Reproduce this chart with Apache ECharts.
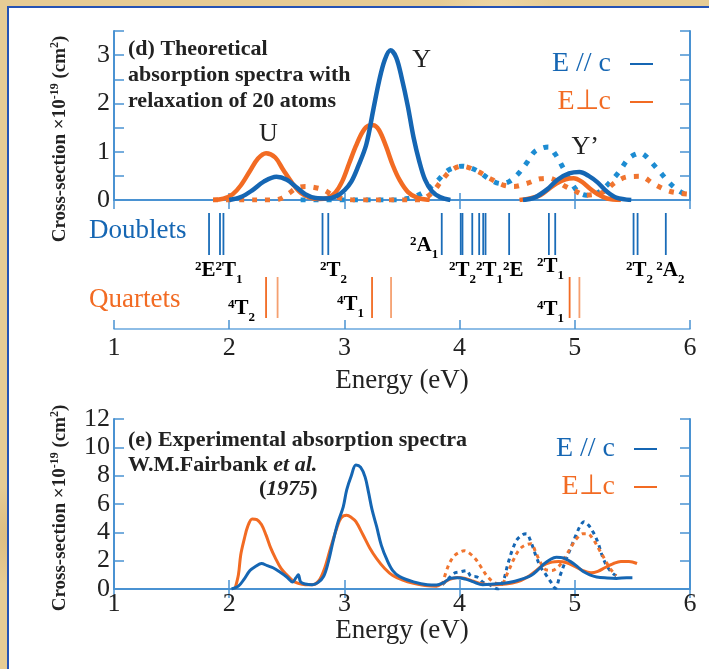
<!DOCTYPE html>
<html>
<head>
<meta charset="utf-8">
<title>Absorption spectra</title>
<script src="https://cdn.jsdelivr.net/npm/echarts@6/dist/echarts.min.js"></script>
<style>
html,body{margin:0;padding:0;}
body{width:709px;height:669px;overflow:hidden;position:relative;
  background-color:#e6cc95;
  background-image:
    radial-gradient(circle at 20% 30%, rgba(200,160,90,.35) 0, rgba(200,160,90,0) 40px),
    radial-gradient(circle at 70% 3%, rgba(245,225,180,.6) 0, rgba(245,225,180,0) 60px),
    radial-gradient(circle at 2% 80%, rgba(205,165,95,.4) 0, rgba(205,165,95,0) 50px);}
#panel{position:absolute;left:7px;top:6px;width:720px;height:680px;background:#fff;
  border-left:2px solid #2553b5;border-top:2px solid #2553b5;}
#chart{position:absolute;left:0;top:0;width:709px;height:669px;}
</style>
</head>
<body>
<div id="panel"></div>
<div id="chart"></div>
<script>
var FONT='"Liberation Serif","Times New Roman",serif';
var BLUE='#1566b3', ORANGE='#f26b23', CYAN='#1d8cd2', ORANGE_DOT='#f07530', AXIS='#4a92d2';

// (d) theory, E // c (solid), split in two pieces
var theoParaA=[[2.0,0],[2.1,0.06],[2.2,0.2],[2.3,0.38],[2.41,0.48],[2.5,0.42],[2.58,0.27],[2.66,0.12],[2.75,0.04],[2.85,0.03],[2.93,0.08],[3.0,0.2],[3.06,0.38],[3.12,0.7],[3.19,1.15],[3.25,1.86],[3.3,2.45],[3.35,2.9],[3.4,3.1],[3.45,2.95],[3.5,2.5],[3.55,1.95],[3.6,1.3],[3.65,0.8],[3.7,0.42],[3.76,0.18],[3.83,0.06],[3.92,0]];
var theoParaB=[[4.55,0],[4.65,0.05],[4.76,0.22],[4.85,0.42],[4.95,0.55],[5.04,0.58],[5.12,0.5],[5.2,0.36],[5.28,0.17],[5.36,0.05],[5.49,0]];
// (d) theory, E perp c (solid)
var theoPerpA=[[1.86,0],[1.95,0.03],[2.03,0.12],[2.1,0.3],[2.18,0.6],[2.25,0.86],[2.32,0.97],[2.4,0.88],[2.47,0.62],[2.55,0.34],[2.62,0.15],[2.7,0.05],[2.78,0.02],[2.85,0.04],[2.92,0.15],[2.98,0.38],[3.04,0.75],[3.1,1.12],[3.16,1.42],[3.21,1.54],[3.25,1.55],[3.3,1.45],[3.36,1.12],[3.42,0.72],[3.48,0.41],[3.55,0.17],[3.63,0.05],[3.74,0]];
var theoPerpB=[[4.52,0],[4.62,0.04],[4.7,0.1],[4.77,0.22],[4.84,0.34],[4.92,0.43],[4.99,0.45],[5.06,0.38],[5.13,0.24],[5.2,0.12],[5.28,0.03],[5.4,0]];
// (d) theory, dotted
var theoParaDot=[[2.62,0],[3.0,0],[3.45,0],[3.55,0.03],[3.62,0.08],[3.7,0.18],[3.8,0.38],[3.88,0.58],[3.95,0.67],[4.02,0.7],[4.1,0.66],[4.17,0.58],[4.26,0.43],[4.36,0.34],[4.43,0.38],[4.5,0.52],[4.58,0.76],[4.65,1.0],[4.72,1.08],[4.77,1.1],[4.83,0.95],[4.9,0.66],[4.96,0.4],[5.03,0.17],[5.1,0.1],[5.19,0.14],[5.25,0.24],[5.31,0.38],[5.39,0.6],[5.46,0.84],[5.52,0.94],[5.57,0.97],[5.62,0.9],[5.67,0.77],[5.74,0.58],[5.8,0.41],[5.87,0.25],[5.94,0.14],[6.0,0.1]];
var theoPerpDot=[[1.86,0],[2.1,0],[2.38,0],[2.45,0.03],[2.52,0.14],[2.58,0.24],[2.66,0.28],[2.74,0.26],[2.82,0.21],[2.9,0.1],[3.0,0.02],[3.12,0],[3.4,0],[3.66,0],[3.72,0.07],[3.78,0.2],[3.85,0.42],[3.93,0.62],[4.02,0.7],[4.15,0.6],[4.26,0.45],[4.38,0.31],[4.47,0.28],[4.58,0.34],[4.7,0.44],[4.78,0.45],[4.85,0.38],[4.92,0.28],[4.99,0.2],[5.1,0.1],[5.18,0.12],[5.25,0.17],[5.36,0.38],[5.46,0.48],[5.57,0.49],[5.68,0.34],[5.8,0.2],[5.91,0.14],[6.0,0.12]];

// transition energies (eV)
var doubletE=[1.825,1.92,1.95,2.81,2.86,3.845,4.01,4.025,4.11,4.17,4.205,4.225,4.43,4.775,4.83,5.51,5.545,5.79];
var quartetE=[2.32,2.42,3.24,3.405,4.955,5.04];

// (e) experiment
var expPara=[[2.02,0],[2.08,0.2],[2.13,0.7],[2.18,1.3],[2.23,1.6],[2.28,1.8],[2.33,1.65],[2.38,1.5],[2.44,1.2],[2.5,0.85],[2.55,0.5],[2.58,0.8],[2.6,1.0],[2.62,0.5],[2.66,0.35],[2.72,0.3],[2.77,0.45],[2.82,0.9],[2.86,1.9],[2.9,3.3],[2.94,4.6],[2.99,5.8],[3.02,7.0],[3.06,8.0],[3.1,8.75],[3.14,8.6],[3.18,7.9],[3.21,6.8],[3.24,5.6],[3.28,4.4],[3.32,3.1],[3.37,2.05],[3.42,1.3],[3.48,0.87],[3.6,0.5],[3.72,0.3],[3.8,0.28],[3.86,0.45],[3.92,0.75],[3.98,0.8],[4.05,0.7],[4.12,0.5],[4.2,0.3],[4.3,0.35],[4.4,0.42],[4.48,0.55],[4.56,0.75],[4.62,0.95],[4.68,1.35],[4.73,1.75],[4.78,2.05],[4.84,2.25],[4.9,2.2],[4.96,1.95],[5.02,1.6],[5.07,1.25],[5.13,1.0],[5.19,0.85],[5.28,0.78],[5.36,0.75],[5.45,0.8],[5.5,0.8]];
var expPerp=[[2.05,0],[2.08,1.0],[2.1,2.4],[2.13,3.5],[2.16,4.4],[2.2,4.95],[2.24,4.9],[2.28,4.55],[2.32,3.8],[2.36,2.9],[2.4,2.2],[2.45,1.45],[2.5,1.0],[2.55,0.6],[2.6,0.4],[2.66,0.3],[2.72,0.3],[2.78,0.6],[2.83,1.5],[2.88,2.9],[2.93,4.2],[2.97,5.0],[3.02,5.2],[3.06,5.05],[3.1,4.75],[3.16,3.85],[3.22,2.9],[3.28,2.15],[3.35,1.45],[3.42,0.95],[3.5,0.65],[3.6,0.4],[3.7,0.25],[3.8,0.2],[3.86,0.45],[3.92,0.7],[3.98,0.82],[4.05,0.75],[4.12,0.55],[4.2,0.35],[4.3,0.3],[4.4,0.35],[4.5,0.5],[4.58,0.8],[4.65,1.2],[4.72,1.65],[4.8,1.9],[4.86,1.95],[4.93,1.85],[5.0,1.6],[5.07,1.3],[5.14,1.15],[5.2,1.25],[5.26,1.5],[5.33,1.78],[5.4,1.95],[5.47,1.95],[5.54,1.8]];
var expParaDot=[[3.85,0.3],[3.9,0.7],[3.95,1.1],[4.0,1.2],[4.06,1.3],[4.1,0.9],[4.15,0.85],[4.2,0.5],[4.26,0.3],[4.33,0],[4.38,0.6],[4.42,1.8],[4.46,2.8],[4.5,3.5],[4.55,3.85],[4.58,3.9],[4.62,3.3],[4.66,2.4],[4.7,1.6],[4.75,1.0],[4.8,0.4],[4.83,0.05],[4.87,0.9],[4.92,2.0],[4.97,3.0],[5.01,3.8],[5.05,4.5],[5.08,4.75],[5.12,4.5],[5.16,4.0],[5.2,3.3],[5.24,2.3],[5.28,1.6],[5.33,1.1],[5.38,0.85]];
var expPerpDot=[[3.85,0.3],[3.9,1.6],[3.95,2.3],[4.0,2.6],[4.04,2.7],[4.09,2.5],[4.14,2.1],[4.19,1.5],[4.24,0.9],[4.3,0.45],[4.36,0.35],[4.42,1.2],[4.47,2.1],[4.52,2.8],[4.57,3.1],[4.62,3.2],[4.66,2.6],[4.7,1.9],[4.74,1.4],[4.8,1.3],[4.86,1.6],[4.92,2.3],[4.97,3.0],[5.02,3.6],[5.07,3.9],[5.11,3.9],[5.16,3.5],[5.21,2.8],[5.26,2.1],[5.31,1.4],[5.36,0.95]];

var myChart=echarts.init(document.getElementById('chart'));

function curve(name,data,color,width,dash,grid){
    return {
        type:'line', name:name, data:data, smooth:0.35, showSymbol:false, silent:true,
        xAxisIndex:grid==0?0:3, yAxisIndex:grid==0?0:3,
        itemStyle:{color:color},
        lineStyle:{color:color,width:width,type:dash||'solid',cap:'butt'}
    };
}
function peakLabel(name,x,y){
    return {name:name,coord:[x,y]};
}
var peakMark={
    symbol:'circle', symbolSize:1, itemStyle:{color:'rgba(0,0,0,0)'},
    label:{show:true,position:'inside',formatter:'{b}',color:'#222',fontFamily:FONT,fontSize:26}
};

var frameLine={show:true,lineStyle:{color:AXIS,width:2}};
var baseLine={show:true,lineStyle:{color:'#6aa8de',width:1.5}};
function ticks(len){return {show:true,inside:true,length:len,lineStyle:{color:AXIS,width:1.5}};}
var tickFont={fontFamily:FONT,fontSize:26,color:'#222'};

// sub/superscript styles for the term labels
var termRich={
    m:{fontFamily:FONT,fontWeight:'bold',fontSize:21,lineHeight:30,color:'#222'},
    p:{fontFamily:FONT,fontWeight:'bold',fontSize:13,lineHeight:13,verticalAlign:'top',padding:[4,0,0,0],color:'#222'},
    b:{fontFamily:FONT,fontWeight:'bold',fontSize:13,lineHeight:13,verticalAlign:'bottom',color:'#222'}
};
function term(x,y,text){
    return {type:'text',x:x,y:y,style:{text:text,rich:termRich,verticalAlign:'middle'}};
}
function plain(x,y,text,size,color,weight){
    return {type:'text',x:x,y:y,style:{text:text,fontFamily:FONT,fontSize:size,fill:color,fontWeight:weight||'normal',verticalAlign:'middle'}};
}
function yTitle(x,y){
    return {type:'text',x:x,y:y,rotation:Math.PI/2,style:{
        text:'Cross-section ×10{s|-19} (cm{s|2})',
        fontFamily:FONT,fontWeight:'bold',fontSize:19,lineHeight:22,fill:'#222',
        align:'center',verticalAlign:'middle',
        rich:{s:{fontFamily:FONT,fontWeight:'bold',fontSize:12,lineHeight:12,verticalAlign:'top',fill:'#222'}}
    }};
}

var sA=curve('E // c',theoParaA,BLUE,4.5,null,0);
sA.markPoint=echarts.util.merge({data:[peakLabel('U',2.34,1.37),peakLabel('Y',3.67,2.9)]},peakMark);
var sB=curve('E // c',theoParaB,BLUE,4.5,null,0);
sB.markPoint=echarts.util.merge({data:[peakLabel('Y\u2019',5.09,1.1)]},peakMark);

var option={
    animation:false,
    grid:[
        {left:114,top:31,width:576,height:169},
        {left:114,top:200,width:576,height:129},
        {left:114,top:419,width:576,height:170}
    ],
    xAxis:[
        {gridIndex:0,type:'value',min:1,max:6,interval:1,position:'bottom',axisLine:baseLine,axisTick:ticks(7),axisLabel:{show:false},splitLine:{show:false}},
        {gridIndex:0,type:'value',min:1,max:6,interval:1,position:'top',axisLine:frameLine,axisTick:ticks(9),axisLabel:{show:false},splitLine:{show:false}},
        {gridIndex:1,type:'value',min:1,max:6,interval:1,position:'bottom',axisLine:baseLine,axisTick:ticks(9),
            axisLabel:echarts.util.merge({margin:6},tickFont),splitLine:{show:false},
            name:'Energy (eV)',nameLocation:'middle',nameGap:38,nameTextStyle:{fontFamily:FONT,fontSize:27,color:'#222'}},
        {gridIndex:2,type:'value',min:1,max:6,interval:1,position:'bottom',axisLine:baseLine,axisTick:ticks(9),
            axisLabel:echarts.util.merge({margin:2},tickFont),splitLine:{show:false},
            name:'Energy (eV)',nameLocation:'middle',nameGap:28,nameTextStyle:{fontFamily:FONT,fontSize:27,color:'#222'}},
        {gridIndex:2,type:'value',min:1,max:6,interval:1,position:'top',axisLine:frameLine,axisTick:ticks(9),axisLabel:{show:false},splitLine:{show:false}}
    ],
    yAxis:[
        {gridIndex:0,type:'value',min:0,max:3.5,interval:0.5,position:'left',axisLine:frameLine,axisTick:ticks(10),splitLine:{show:false},
            axisLabel:echarts.util.merge({margin:4,formatter:function(v){return v%1===0?v:'';}},tickFont)},
        {gridIndex:0,type:'value',min:0,max:3.5,interval:0.5,position:'right',axisLine:frameLine,axisTick:ticks(10),axisLabel:{show:false},splitLine:{show:false}},
        {gridIndex:1,type:'value',min:0,max:129,show:false},
        {gridIndex:2,type:'value',min:0,max:12,interval:2,position:'left',axisLine:frameLine,axisTick:ticks(10),splitLine:{show:false},
            axisLabel:echarts.util.merge({margin:4},tickFont)},
        {gridIndex:2,type:'value',min:0,max:12,interval:2,position:'right',axisLine:frameLine,axisTick:ticks(10),axisLabel:{show:false},splitLine:{show:false}}
    ],
    legend:[
        {data:[{name:'E // c',textStyle:{color:BLUE}},{name:'E\u22a5c',textStyle:{color:ORANGE}}],
         orient:'vertical',right:51,top:45,align:'right',icon:'rect',itemWidth:23,itemHeight:2,itemGap:10,selectedMode:false,
         formatter:function(n){return n+'  ';},textStyle:{fontFamily:FONT,fontSize:28,lineHeight:28}},
        {data:[{name:'E // c',textStyle:{color:BLUE}},{name:'E\u22a5c',textStyle:{color:ORANGE}}],
         orient:'vertical',right:47,top:430,align:'right',icon:'rect',itemWidth:23,itemHeight:2,itemGap:10,selectedMode:false,
         formatter:function(n){return n+'  ';},textStyle:{fontFamily:FONT,fontSize:28,lineHeight:28}}
    ],
    graphic:[
        {type:'text',x:128,y:36,style:{text:'(d) Theoretical\nabsorption spectra with\nrelaxation of 20 atoms',
            fontFamily:FONT,fontWeight:'bold',fontSize:22,lineHeight:26,fill:'#222'}},
        plain(128,440,'(e) Experimental absorption spectra',22,'#222','bold'),
        {type:'text',x:128,y:465,style:{text:'W.M.Fairbank {i|et al.}',fontFamily:FONT,fontWeight:'bold',fontSize:22,fill:'#222',verticalAlign:'middle',
            rich:{i:{fontFamily:FONT,fontWeight:'bold',fontStyle:'italic',fontSize:22}}}},
        {type:'text',x:259,y:489,style:{text:'({i|1975})',fontFamily:FONT,fontWeight:'bold',fontSize:22,fill:'#222',verticalAlign:'middle',
            rich:{i:{fontFamily:FONT,fontWeight:'bold',fontStyle:'italic',fontSize:22}}}},
        plain(89,231,'Doublets',27,BLUE),
        plain(89,300,'Quartets',27,ORANGE),
        term(195,271,'{p|2}{m|E}{p|2}{m|T}{b|1}'),
        term(320,271,'{p|2}{m|T}{b|2}'),
        term(410,246,'{p|2}{m|A}{b|1}'),
        term(449,271,'{p|2}{m|T}{b|2}{p|2}{m|T}{b|1}{p|2}{m|E}'),
        term(537,267,'{p|2}{m|T}{b|1}'),
        term(626,271,'{p|2}{m|T}{b|2} {p|2}{m|A}{b|2}'),
        term(228,309,'{p|4}{m|T}{b|2}'),
        term(337,305,'{p|4}{m|T}{b|1}'),
        term(537,310,'{p|4}{m|T}{b|1}'),
        yTitle(60,139),
        yTitle(60,508)
    ],
    series:[
        curve('paraDot',theoParaDot,CYAN,5,[5,8],0),
        curve('perpDot',theoPerpDot,ORANGE_DOT,5,[5,8],0),
        curve('E\u22a5c',theoPerpA,ORANGE,4.5,null,0),
        curve('E\u22a5c',theoPerpB,ORANGE,4.5,null,0),
        sA, sB,
        {
            type:'custom', xAxisIndex:2, yAxisIndex:2, silent:true,
            data:doubletE.map(function(e){return [e,0];}).concat(quartetE.map(function(e){return [e,1];})),
            renderItem:function(params,api){
                var k=api.value(1);
                var lo=k===0?74:11, hi=k===0?116:52;
                var p1=api.coord([api.value(0),lo]), p2=api.coord([api.value(0),hi]);
                var light=k===1&&(params.dataIndex-doubletE.length)%2===1;
                return {type:'line',shape:{x1:p1[0],y1:p1[1],x2:p2[0],y2:p2[1]},
                    style:{stroke:k===0?'#1a6cb8':(light?'#f5a070':ORANGE),lineWidth:1.8}};
            }
        },
        curve('expParaDot',expParaDot,BLUE,3,[4,4],2),
        curve('expPerpDot',expPerpDot,ORANGE_DOT,3,[4,4],2),
        curve('E\u22a5c',expPerp,ORANGE,3,null,2),
        curve('E // c',expPara,BLUE,3,null,2)
    ]
};
myChart.setOption(option);
</script>
</body>
</html>
